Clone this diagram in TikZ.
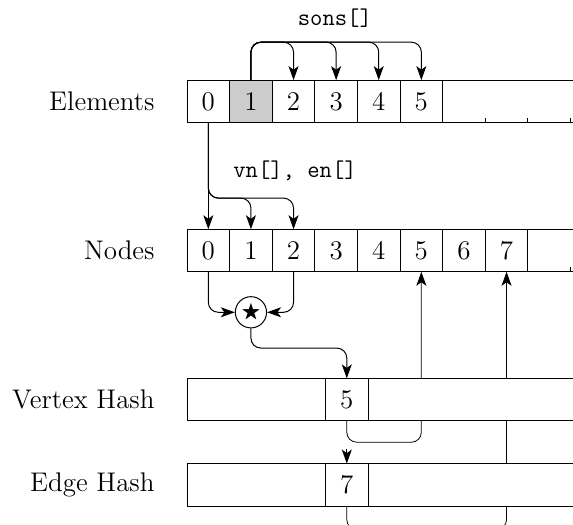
\documentclass[tikz,border=0pt]{standalone}
\usepackage{amssymb}
\usetikzlibrary{arrows.meta,backgrounds}
\tikzset{
  cell/.style={draw,minimum width=0.75cm,minimum height=0.75cm,inner sep=0pt,outer sep=0pt},
  link/.style={rounded corners=5pt,-{Stealth[length=7pt,width=5pt,inset=1.8pt]}},
  rowname/.style={anchor=east,inner sep=0pt},
  code/.style={font=\fontsize{12}{13}\selectfont\ttfamily}
}
\begin{document}
\begin{tikzpicture}[x=0.75cm,y=0.75cm,line width=0.5pt,font=\fontsize{13.5}{15}\selectfont]
\useasboundingbox (-4.39,-10.42) rectangle (9.06,1.88);
\clip (-4.39,-10.42) rectangle (9.06,1.88);

% element array, open to the right
\fill[black!20] (1,0) rectangle (2,-1);
\foreach \i in {0,...,5}
  \node[cell] (el\i) at (\i+0.5,-0.5) {\i};
\draw (el5.north east) -- ++(3.5,0) (el5.south east) -- ++(3.5,0);
\foreach \t in {7,8,9}
  \draw (\t,-1) -- ++(0,0.12);
\node[rowname] (elname) at (-0.75,-0.5) {Elements};

% node array
\foreach \i in {0,...,7}
  \node[cell] (nd\i) at (\i+0.5,-4) {\i};
\draw (nd7.north east) -- ++(1.5,0) (nd7.south east) -- ++(1.5,0);
\draw (9,-4.5) -- ++(0,0.12);
\node[rowname] (ndname) at (-0.75,-4) {Nodes};

% hash tables
\filldraw[fill=white] (0,-7) rectangle (3.25,-8) (4.25,-7) rectangle (9.5,-8);
\node[cell,fill=white] (vh5) at (3.75,-7.5) {5};
\node[rowname] (vhname) at (-0.75,-7.5) {Vertex Hash};
\filldraw[fill=white] (0,-9) rectangle (3.25,-10) (4.25,-9) rectangle (9.5,-10);
\node[cell,fill=white] (eh7) at (3.75,-9.5) {7};
\node[rowname] (ehname) at (-0.75,-9.5) {Edge Hash};

% sons[]
\coordinate (sonsbar) at (0,0.89);
\node[code] (sonslbl) at (3.47,1.46) {sons[]};
\foreach \j in {2,...,5}
  \draw[link] (el1.north) -- (el1.north |- sonsbar) -- (el\j.north |- sonsbar) -- (el\j.north);

% vn[], en[]
\coordinate (vnbar) at (0,-2.77);
\node[code,anchor=west] (vnlbl) at (0.92,-2.12) {vn[], en[]};
\draw[link] (el0.south) -- (nd0.north);
\foreach \j in {1,2}
  \draw[link] (el0.south) -- (el0.south |- vnbar) -- (nd\j.north |- vnbar) -- (nd\j.north);

% combine nodes 0 and 2
\node[draw,circle,minimum size=0.55cm,inner sep=0pt] (star) at (1.5,-5.45) {\fontsize{10}{11}\selectfont$\bigstar$};
\draw[link] (nd0.south) |- (star.west);
\draw[link] (nd2.south) |- (star.east);
\coordinate (starbar) at (0,-6.29);
\draw[link] (star.south) -- (star.south |- starbar) -- (vh5.north |- starbar) -- (vh5.north);

\coordinate (chain) at (3.75,-8.65);
\draw[link] (chain) -- (eh7.north);

% hash entries point back to the nodes
\begin{scope}[on background layer]
\coordinate (vhbar) at (0,-8.5);
\draw[link] (vh5.south) -- (vh5.south |- vhbar) -- (nd5.south |- vhbar) -- (nd5.south);
\coordinate (ehbar) at (0,-10.55);
\draw[link] (eh7.south) -- (eh7.south |- ehbar) -- (nd7.south |- ehbar) -- (nd7.south);
\end{scope}
\end{tikzpicture}
\end{document}
